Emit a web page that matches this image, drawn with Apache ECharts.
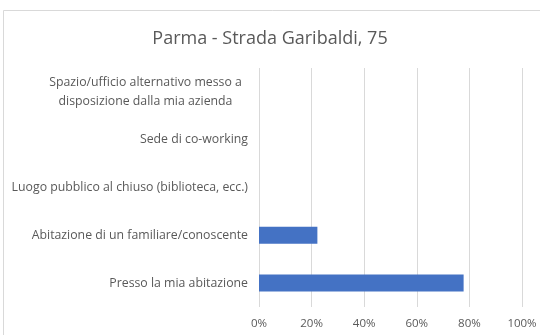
<!DOCTYPE html>
<html>
<head>
<meta charset="utf-8">
<script src="https://cdn.jsdelivr.net/npm/echarts@6/dist/echarts.min.js"></script>
<style>
html,body{margin:0;padding:0;background:#fff;}
#chart{width:540px;height:335px;}
</style>
</head>
<body>
<div id="chart"></div>
<script>
const title = 'Parma - Strada Garibaldi, 75';
const categories = [
  'Spazio/ufficio alternativo messo a\ndisposizione dalla mia azienda',
  'Sede di co-working',
  'Luogo pubblico al chiuso (biblioteca, ecc.)',
  'Abitazione di un familiare/conoscente',
  'Presso la mia abitazione'
];
const values = [0, 0, 0, 0.222, 0.778];

const FONT = 'Open Sans';
const chart = echarts.init(document.getElementById('chart'), null, {renderer: 'canvas'});
chart.setOption({
  animation: false,
  backgroundColor: '#fff',
  textStyle: {fontFamily: FONT},
  graphic: [{
    type: 'rect', silent: true,
    shape: {x: 3.5, y: 10.5, width: 545, height: 340},
    style: {fill: 'none', stroke: '#d9d9d9', lineWidth: 1}
  }],
  title: {
    text: title, left: 'center', top: 25,
    textStyle: {fontFamily: FONT, fontSize: 18, fontWeight: 'normal', color: '#595959'}
  },
  grid: {left: 259, right: 18, top: 68, bottom: 28, containLabel: false},
  xAxis: {
    type: 'value', min: 0, max: 1, interval: 0.2,
    axisLine: {show: false}, axisTick: {show: false},
    splitLine: {lineStyle: {color: '#d9d9d9', width: 1}},
    axisLabel: {
      color: '#595959', fontSize: 11.5, margin: 11, fontFamily: FONT,
      formatter: v => Math.round(v * 100) + '%'
    }
  },
  yAxis: {
    type: 'category', data: categories, inverse: true,
    axisLine: {show: false}, axisTick: {show: false},
    axisLabel: {
      color: '#595959', fontSize: 12.3, margin: 11, fontFamily: FONT, align: 'right',
      formatter: v => v.indexOf('\n') >= 0
        ? v.split('\n').map(s => '{c|' + s + '}').join('\n')
        : v,
      rich: {c: {width: 205, align: 'center', color: '#595959', fontSize: 12.3, fontFamily: FONT, lineHeight: 19}}
    }
  },
  series: [{
    type: 'bar', data: values, barWidth: 17,
    itemStyle: {color: '#4472c4'}
  }]
});
</script>
</body>
</html>
